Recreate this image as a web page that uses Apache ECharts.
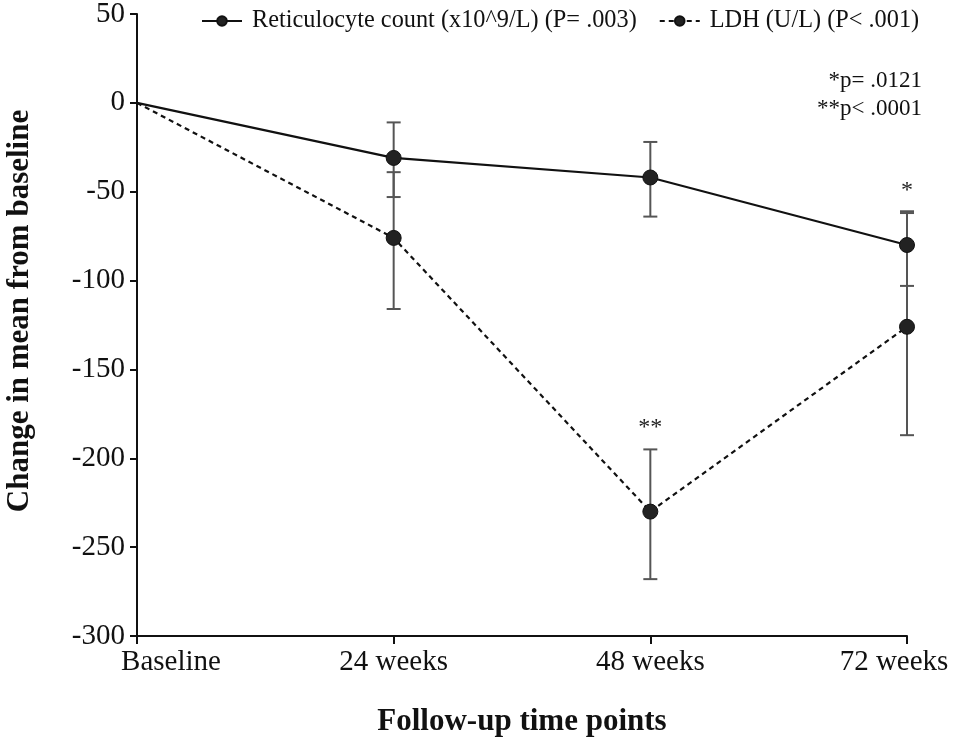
<!DOCTYPE html>
<html>
<head>
<meta charset="utf-8">
<script src="https://cdn.jsdelivr.net/npm/echarts@6/dist/echarts.min.js"></script>
<style>
  html, body { margin: 0; padding: 0; background: #fff; }
  #main { width: 957px; height: 743px; }
</style>
</head>
<body>
<div id="main"></div>
<script>
let categories = ['Baseline', '24 weeks', '48 weeks', '72 weeks'];

let retName = 'Reticulocyte count (x10^9/L) (P= .003)';
let retMean = [0, -31, -42, -80];
let retLow = [null, -53, -64, -103];
let retHigh = [null, -11, -22, -62];
let retStars = ['', '', '', '*'];

let ldhName = 'LDH (U/L) (P< .001)';
let ldhMean = [0, -76, -230, -126];
let ldhLow = [null, -116, -268, -187];
let ldhHigh = [null, -39, -195, -61];
let ldhStars = ['', '', '**', ''];

let yTicks = { min: -300, max: 50, interval: 50 };
let notes = ['*p= .0121', '**p< .0001'];

let serif = "'Liberation Serif', 'Times New Roman', serif";

let dom = document.getElementById('main');
let myChart = echarts.init(dom);

function errData(low, high, stars) {
    let out = [];
    for (let i = 0; i < low.length; i++) {
        if (low[i] === null) continue;
        out.push([i, low[i], high[i], stars[i]]);
    }
    return out;
}

function renderErr(params, api) {
    let x = api.value(0);
    let lo = api.coord([x, api.value(1)]);
    let hi = api.coord([x, api.value(2)]);
    let star = api.value(3);
    let w = 7;
    let st = { stroke: '#555', lineWidth: 2 };
    let children = [
        { type: 'line', shape: { x1: lo[0], y1: lo[1], x2: hi[0], y2: hi[1] }, style: st },
        { type: 'line', shape: { x1: lo[0] - w, y1: lo[1], x2: lo[0] + w, y2: lo[1] }, style: st },
        { type: 'line', shape: { x1: hi[0] - w, y1: hi[1], x2: hi[0] + w, y2: hi[1] }, style: st }
    ];
    if (star) {
        children.push({
            type: 'text',
            style: {
                x: hi[0], y: hi[1] - 22, text: star,
                fill: '#222', font: '24px ' + serif,
                textAlign: 'center', textVerticalAlign: 'middle'
            }
        });
    }
    return { type: 'group', children: children };
}

let option = {
    animation: false,
    backgroundColor: '#fff',
    textStyle: { fontFamily: serif, color: '#111' },
    grid: { left: 137, right: 50, top: 14, bottom: 107, outerBoundsMode: 'none', containLabel: false },
    legend: {
        top: 4,
        left: 196,
        itemWidth: 40,
        itemHeight: 12,
        itemGap: 22,
        textStyle: { fontFamily: serif, fontSize: 24.3, color: '#111', padding: [0, 0, 0, 5] },
        data: [retName, ldhName]
    },
    graphic: [
        {
            type: 'text',
            x: 20, y: 311,
            rotation: Math.PI / 2,
            style: {
                text: 'Change in mean from baseline',
                font: 'bold 31px ' + serif,
                fill: '#111',
                textAlign: 'center',
                textVerticalAlign: 'middle'
            }
        },
        {
            type: 'text', right: 35, top: 69,
            style: { text: notes[0], font: '23px ' + serif, fill: '#111' }
        },
        {
            type: 'text', right: 35, top: 97,
            style: { text: notes[1], font: '23px ' + serif, fill: '#111' }
        }
    ],
    xAxis: {
        type: 'category',
        data: categories,
        boundaryGap: false,
        name: 'Follow-up time points',
        nameLocation: 'middle',
        nameGap: 70,
        nameTextStyle: { fontFamily: serif, fontSize: 31, fontWeight: 'bold', color: '#111' },
        axisLine: { onZero: false, lineStyle: { color: '#111', width: 2 } },
        axisTick: { length: 8, lineStyle: { color: '#111', width: 2 } },
        axisLabel: {
            interval: 0,
            margin: 12,
            fontSize: 29,
            color: '#111',
            fontFamily: serif,
            formatter: function (v, i) {
                if (i === 0) return '{first|' + v + '}';
                if (i === categories.length - 1) return '{last|' + v + '}';
                return v;
            },
            rich: {
                first: { fontSize: 29, fontFamily: serif, color: '#111', padding: [0, 0, 0, 68] },
                last: { fontSize: 29, fontFamily: serif, color: '#111', padding: [0, 26, 0, 0] }
            }
        },
        splitLine: { show: false }
    },
    yAxis: {
        type: 'value',
        min: yTicks.min,
        max: yTicks.max,
        interval: yTicks.interval,
        axisLine: { show: true, lineStyle: { color: '#111', width: 2 } },
        axisTick: { show: true, length: 7, lineStyle: { color: '#111', width: 2 } },
        axisLabel: { margin: 12, fontSize: 29, color: '#111', fontFamily: serif },
        splitLine: { show: false }
    },
    series: [
        {
            name: retName,
            type: 'line',
            data: retMean,
            symbol: 'circle',
            symbolSize: 15,
            showSymbol: true,
            lineStyle: { color: '#111', width: 2.2, type: 'solid' },
            itemStyle: { color: '#222', borderColor: '#111', borderWidth: 1 },
            z: 3
        },
        {
            name: ldhName,
            type: 'line',
            data: ldhMean,
            symbol: 'circle',
            symbolSize: 15,
            lineStyle: { color: '#111', width: 2.2, type: [5, 4] },
            itemStyle: { color: '#222', borderColor: '#111', borderWidth: 1 },
            z: 3
        },
        {
            type: 'custom',
            renderItem: renderErr,
            data: errData(retLow, retHigh, retStars),
            encode: { x: 0, y: [1, 2] },
            z: 2
        },
        {
            type: 'custom',
            renderItem: renderErr,
            data: errData(ldhLow, ldhHigh, ldhStars),
            encode: { x: 0, y: [1, 2] },
            z: 2
        }
    ]
};

// hide the symbol on the shared baseline point, as in the figure
option.series[0].data = retMean.map(function (v, i) {
    return i === 0 ? { value: v, symbol: 'none' } : v;
});
option.series[1].data = ldhMean.map(function (v, i) {
    return i === 0 ? { value: v, symbol: 'none' } : v;
});

myChart.setOption(option, true);
window.addEventListener('resize', function () {
    myChart.resize();
});
</script>
</body>
</html>
